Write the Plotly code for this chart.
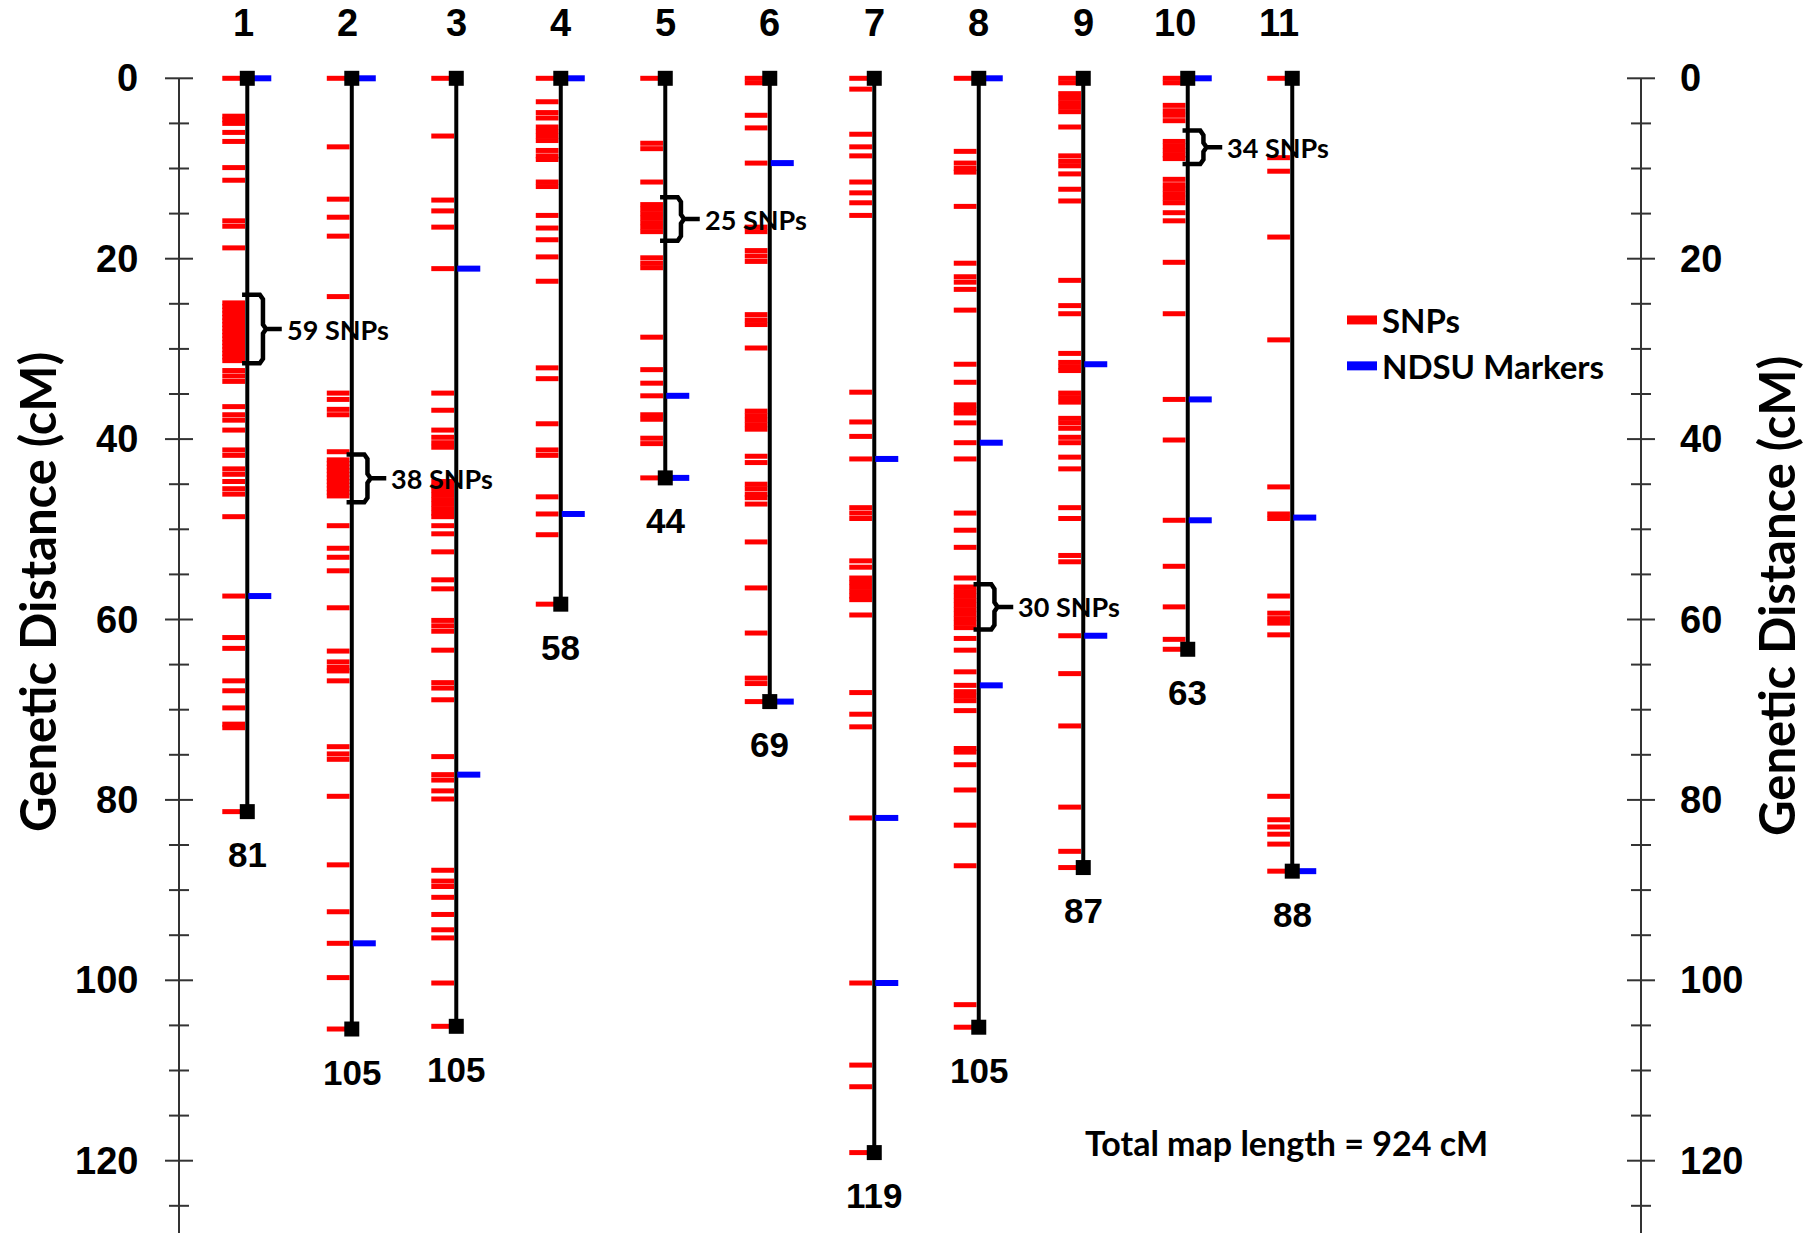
import plotly.graph_objects as go

# ---------------- data ----------------
chromosomes = ["1", "2", "3", "4", "5", "6", "7", "8", "9", "10", "11"]
chrom_lengths = [81.3, 105.4, 105.1, 58.3, 44.3, 69.1, 119.1, 105.2, 87.5, 63.3, 87.9]
length_labels = ["81", "105", "105", "58", "44", "69", "119", "105", "87", "63", "88"]

snp_chr1 = [0, 4.2, 4.6, 5.0, 6.0, 7.0, 9.9, 11.3, 15.8, 16.4, 18.8,
            24.9, 25.3, 25.7, 26.1, 26.5, 26.9, 27.3, 27.7, 28.1, 28.5, 28.9, 29.3, 29.7, 30.1, 30.5, 30.9, 31.3,
            32.4, 33.0, 33.6, 36.4, 37.3, 37.9, 39.0, 41.2, 41.8, 43.3, 43.9, 44.7, 45.5, 46.1, 48.6,
            57.4, 62.0, 63.2, 66.8, 67.9, 69.8, 71.6, 72.0, 81.3]
snp_chr2 = [0, 7.6, 13.4, 15.4, 17.5, 24.2, 34.9, 35.6, 36.7, 37.3, 41.4,
            42.3, 42.7, 43.1, 43.5, 43.9, 44.3, 44.7, 45.1, 45.5, 45.9, 46.3,
            49.6, 52.1, 53.1, 54.6, 58.7, 63.5, 64.7, 65.3, 65.7, 66.8, 74.1, 74.9, 75.5,
            79.6, 87.2, 92.4, 95.9, 99.7, 105.4]
snp_chr3 = [0, 6.4, 13.5, 14.7, 16.5, 21.1, 34.9, 36.8, 39.0, 39.8, 40.4, 40.9,
            44.7, 45.2, 45.7, 46.2, 46.7, 47.2, 47.7, 48.2, 48.6, 49.6, 50.5, 52.5, 55.6, 56.6,
            60.1, 60.7, 61.3, 63.4, 67.0, 67.6, 68.9, 75.2, 77.2, 77.8, 79.0, 79.9,
            87.8, 89.0, 89.6, 90.8, 92.7, 94.4, 95.3, 100.3, 105.1]
snp_chr4 = [0, 2.6, 3.8, 4.4, 5.4, 5.9, 6.4, 6.9, 8.0, 8.6, 9.0, 11.5, 12.0, 15.2, 16.6, 17.9,
            19.8, 22.5, 32.1, 33.3, 38.3, 41.2, 41.8, 46.4, 48.3, 50.6, 58.3]
snp_chr5 = [0, 7.2, 7.8, 11.5, 14.0, 14.5, 15.0, 15.5, 16.0, 16.5, 17.0, 19.9, 20.5, 21.0,
            28.7, 32.3, 33.8, 35.2, 37.3, 37.8, 39.9, 40.5, 44.3]
snp_chr6 = [0, 0.5, 4.1, 5.5, 9.4, 16.5, 17.0, 19.1, 19.7, 20.3, 26.2, 26.8, 27.3, 29.9,
            36.9, 37.4, 37.9, 38.4, 38.9, 41.9, 42.6, 45.0, 45.5, 46.1, 46.5, 47.2,
            51.4, 56.5, 61.5, 66.5, 67.1, 69.1]
snp_chr7 = [0, 1.2, 6.2, 7.6, 8.6, 11.5, 12.7, 13.8, 15.2, 34.8, 38.1, 39.7, 42.2,
            47.6, 48.2, 48.8, 53.5, 54.2, 55.4, 55.9, 56.4, 56.9, 57.4, 57.8, 59.5,
            68.1, 70.5, 71.9, 82.0, 100.3, 109.4, 111.8, 119.1]
snp_chr8 = [0, 8.1, 9.4, 10.0, 10.4, 14.2, 20.5, 22.0, 22.6, 23.4, 25.7, 31.7, 33.7,
            36.2, 36.7, 37.1, 38.2, 40.4, 42.2, 48.2, 50.1, 52.0, 55.4,
            56.4, 56.9, 57.4, 57.9, 58.4, 58.9, 59.4, 59.9, 60.4, 60.9,
            62.1, 63.4, 65.8, 67.3, 68.0, 68.5, 69.0, 70.1, 74.3, 74.7, 76.1, 78.9,
            82.8, 87.3, 102.7, 105.2]
snp_chr9 = [0, 0.5, 1.7, 2.2, 2.7, 3.2, 3.7, 5.4, 8.6, 9.2, 9.7, 10.6, 12.3, 13.6, 22.4,
            25.2, 26.1, 30.5, 31.5, 32.0, 32.4, 34.9, 35.4, 35.9, 37.7, 38.2, 38.8, 39.8, 40.4,
            42.0, 43.3, 47.6, 48.8, 52.9, 53.6, 61.8, 66.0, 71.8, 80.8, 85.7, 87.5]
snp_chr10 = [0, 0.5, 3.0, 3.6, 4.1, 4.7, 7.0, 7.5, 8.0, 8.5, 8.9, 11.2, 11.8, 12.3, 12.8,
             13.3, 13.8, 14.9, 15.8, 20.4, 26.1, 35.6, 40.1, 49.0, 54.1, 58.6, 62.2, 63.3]
snp_chr11 = [0, 8.8, 10.3, 17.6, 29.0, 45.3, 48.3, 48.8, 57.4, 59.3, 59.9, 60.4, 61.7,
             79.6, 82.2, 83.0, 83.8, 84.9, 87.9]

ndsu_chr1 = [0, 57.4]
ndsu_chr2 = [0, 95.9]
ndsu_chr3 = [21.1, 77.2]
ndsu_chr4 = [0, 48.3]
ndsu_chr5 = [35.2, 44.3]
ndsu_chr6 = [9.4, 69.1]
ndsu_chr7 = [42.2, 82.0, 100.3]
ndsu_chr8 = [0, 40.4, 67.3]
ndsu_chr9 = [31.7, 61.8]
ndsu_chr10 = [0, 35.6, 49.0]
ndsu_chr11 = [48.7, 87.9]

snp_positions = [snp_chr1, snp_chr2, snp_chr3, snp_chr4, snp_chr5, snp_chr6,
                 snp_chr7, snp_chr8, snp_chr9, snp_chr10, snp_chr11]
ndsu_positions = [ndsu_chr1, ndsu_chr2, ndsu_chr3, ndsu_chr4, ndsu_chr5, ndsu_chr6,
                  ndsu_chr7, ndsu_chr8, ndsu_chr9, ndsu_chr10, ndsu_chr11]

bracket_chrom = [1, 2, 5, 8, 10]
bracket_top = [24.0, 41.7, 13.2, 56.1, 5.8]
bracket_bottom = [31.6, 47.0, 18.0, 61.1, 9.5]
bracket_labels = ["59 SNPs", "38 SNPs", "25 SNPs", "30 SNPs", "34 SNPs"]

ruler_ticks = [0, 5, 10, 15, 20, 25, 30, 35, 40, 45, 50, 55, 60, 65, 70, 75, 80, 85, 90,
               95, 100, 105, 110, 115, 120, 125]
ruler_labels = [0, 20, 40, 60, 80, 100, 120]
total_text = "Total map length = 924 cM"

# ---------------- layout constants ----------------
W, H = 1814, 1233
X0, X1 = -1.3665, 15.993
Y_TOP, Y_BOT = -8.681, 128.015
PX = (X1 - X0) / W  # data units per pixel (x)
SNP_L, SNP_R = -25 * PX, -2.3 * PX
NDSU_L, NDSU_R = 1 * PX, 24 * PX
AX_LEFT = X0 + 179 * PX
AX_RIGHT = X0 + 1641 * PX
MAJ, MIN = 14 * PX, 10 * PX
NUM_SHIFT = [-4, -4, 0, 0, 0, 0, 0, 0, 0, -13, -13]  # header label nudges (px)

BOLD_SANS = "Liberation Sans, Arial, sans-serif"
HUMAN = "Lato, Open Sans, sans-serif"

fig = go.Figure()

# legend-only entries (thicker swatches)
fig.add_trace(go.Scatter(x=[None], y=[None], mode="lines", name="<b>SNPs</b>",
                         line=dict(color="#ff0000", width=9)))
fig.add_trace(go.Scatter(x=[None], y=[None], mode="lines", name="<b>NDSU Markers</b>",
                         line=dict(color="#0000ff", width=9)))


def tick_path(lists, left, right):
    xs, ys = [], []
    for k, plist in enumerate(lists):
        c = k + 1
        for p in plist:
            xs += [c + left, c + right, None]
            ys += [p, p, None]
    return xs, ys


sx, sy = tick_path(snp_positions, SNP_L, SNP_R)
fig.add_trace(go.Scatter(x=sx, y=sy, mode="lines", showlegend=False, hoverinfo="skip",
                         line=dict(color="#ff0000", width=5)))

# chromosome bars
cx, cy = [], []
for k, L in enumerate(chrom_lengths):
    cx += [k + 1, k + 1, None]
    cy += [0, L, None]
fig.add_trace(go.Scatter(x=cx, y=cy, mode="lines", showlegend=False, hoverinfo="skip",
                         line=dict(color="black", width=4)))

nx, ny = tick_path(ndsu_positions, NDSU_L, NDSU_R)
fig.add_trace(go.Scatter(x=nx, y=ny, mode="lines", showlegend=False, hoverinfo="skip",
                         line=dict(color="#0000ff", width=6)))

# end squares
qx, qy = [], []
for k, L in enumerate(chrom_lengths):
    qx += [k + 1, k + 1]
    qy += [0, L]
fig.add_trace(go.Scatter(x=qx, y=qy, mode="markers", showlegend=False, hoverinfo="skip",
                         cliponaxis=False,
                         marker=dict(symbol="square", size=15, color="black")))

# brackets
bx, by = [], []
for c, t, b in zip(bracket_chrom, bracket_top, bracket_bottom):
    m = (t + b) / 2
    pts = [(-0.05, t), (0.12, t), (0.15, t + 0.5), (0.15, m - 0.5), (0.18, m), (0.33, m),
           (0.18, m), (0.15, m + 0.5), (0.15, b - 0.5), (0.12, b), (-0.05, b)]
    for dx, yy in pts:
        bx.append(c + dx)
        by.append(yy)
    bx.append(None)
    by.append(None)
fig.add_trace(go.Scatter(x=bx, y=by, mode="lines", showlegend=False, hoverinfo="skip",
                         line=dict(color="black", width=4.5)))

# rulers
rx, ry = [], []
for ax in (AX_LEFT, AX_RIGHT):
    rx += [ax, ax, None]
    ry += [0, Y_BOT, None]
    for t in ruler_ticks:
        h = MAJ if t in ruler_labels else MIN
        rx += [ax - h, ax + h, None]
        ry += [t, t, None]
fig.add_trace(go.Scatter(x=rx, y=ry, mode="lines", showlegend=False, hoverinfo="skip",
                         line=dict(color="#333333", width=2)))

ann = []
for t in ruler_labels:
    ann.append(dict(x=140 / W, xref="paper", y=t, yref="y", text=f"<b>{t}</b>",
                    xanchor="right", yanchor="middle", showarrow=False,
                    font=dict(family=BOLD_SANS, size=38, color="black")))
    ann.append(dict(x=1678 / W, xref="paper", y=t, yref="y", text=f"<b>{t}</b>",
                    xanchor="left", yanchor="middle", showarrow=False,
                    font=dict(family=BOLD_SANS, size=38, color="black")))

for k, name in enumerate(chromosomes):
    ann.append(dict(x=k + 1, y=-6.1, xref="x", yref="y", text=f"<b>{name}</b>",
                    xshift=NUM_SHIFT[k],
                    showarrow=False, xanchor="center", yanchor="middle",
                    font=dict(family=BOLD_SANS, size=38, color="black")))
    ann.append(dict(x=k + 1, y=chrom_lengths[k], xref="x", yref="y",
                    text=f"<b>{length_labels[k]}</b>", yshift=-43,
                    showarrow=False, xanchor="center", yanchor="middle",
                    font=dict(family=BOLD_SANS, size=35, color="black")))

for c, t, b, lab in zip(bracket_chrom, bracket_top, bracket_bottom, bracket_labels):
    ann.append(dict(x=c + 0.36, y=(t + b) / 2, xref="x", yref="y", text=f"<b>{lab}</b>",
                    showarrow=False, xanchor="left", yanchor="middle",
                    font=dict(family=HUMAN, size=27, color="black")))

for xx, yy in ((37 / W, 1 - 592 / H), (1776 / W, 1 - 596 / H)):
    ann.append(dict(x=xx, y=yy, xref="paper", yref="paper", text="<b>Genetic Distance (cM)</b>",
                    textangle=-90, showarrow=False, xanchor="center", yanchor="middle",
                    font=dict(family=HUMAN, size=49, color="black")))

ann.append(dict(x=1286.5 / W, y=1 - 1142 / H, xref="paper", yref="paper",
                text=f"<b>{total_text}</b>", showarrow=False, xanchor="center", yanchor="middle",
                font=dict(family=HUMAN, size=34, color="black")))

fig.update_layout(
    width=W, height=H,
    margin=dict(l=0, r=0, t=0, b=0),
    paper_bgcolor="white", plot_bgcolor="white",
    xaxis=dict(range=[X0, X1], visible=False, fixedrange=True),
    yaxis=dict(range=[Y_BOT, Y_TOP], visible=False, fixedrange=True),
    hovermode=False,
    showlegend=True,
    legend=dict(x=1342 / W, xanchor="left", y=1 - 343 / H, yanchor="middle",
                bgcolor="rgba(0,0,0,0)", borderwidth=0, itemwidth=30,
                font=dict(family=HUMAN, size=33, color="black")),
    annotations=ann,
)

fig.write_html("out.html", config={"displayModeBar": False},
               post_script="document.body.style.margin='0';")
